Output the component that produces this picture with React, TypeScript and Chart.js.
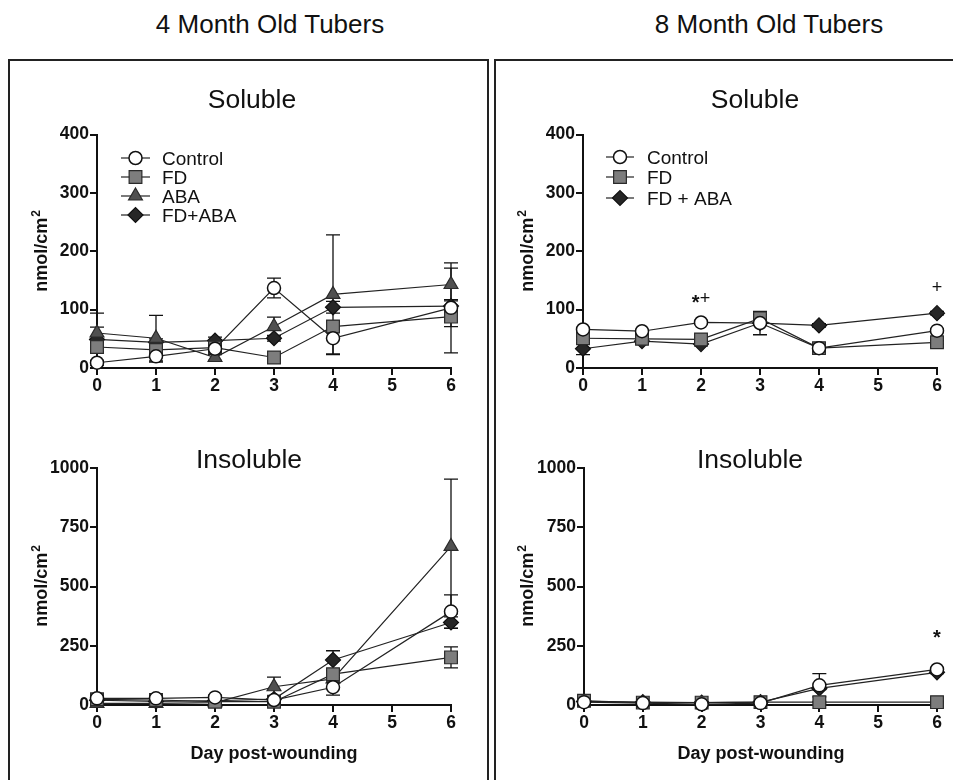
import React, { useEffect, useRef } from 'react';
import { Chart, registerables } from 'chart.js';

Chart.register(...registerables);

// ---------------- data ----------------
const days = [0, 1, 2, 3, 4, 6];
const dayTicks = [0, 1, 2, 3, 4, 5, 6];
const solubleTicks = [0, 100, 200, 300, 400];
const insolubleTicks = [0, 250, 500, 750, 1000];

// 4 month old, soluble
const ctrl4Sol = [9, 20, 33, 137, 51, 103];
const ctrl4SolErr = [4, 10, 5, 17, 28, 77];
const fd4Sol = [36, 31, 35, 18, 71, 88];
const fd4SolErr = [8, 6, 4, 3, 10, 17];
const aba4Sol = [60, 51, 18, 71, 126, 143];
const aba4SolErr = [34, 39, 5, 16, 102, 28];
const fdAba4Sol = [49, 44, 47, 51, 104, 106];
const fdAba4SolErr = [21, 6, 6, 5, 10, 11];

// 8 month old, soluble
const ctrl8Sol = [66, 63, 78, 77, 34, 64];
const ctrl8SolErr = [3, 3, 3, 20, 3, 3];
const fd8Sol = [51, 50, 49, 85, 34, 44];
const fd8SolErr = [3, 3, 3, 7, 3, 3];
const fdAba8Sol = [33, 46, 41, 77, 73, 94];
const fdAba8SolErr = [10, 4, 3, 4, 3, 3];

// 4 month old, insoluble
const ctrl4Ins = [28, 28, 32, 21, 75, 394];
const ctrl4InsErr = [8, 5, 8, 5, 33, 71];
const fd4Ins = [24, 21, 14, 14, 130, 201];
const fd4InsErr = [5, 4, 3, 3, 15, 44];
const aba4Ins = [7, 7, 10, 77, 110, 669];
const aba4InsErr = [4, 3, 3, 41, 15, 284];
const fdAba4Ins = [20, 15, 18, 25, 190, 348];
const fdAba4InsErr = [5, 4, 4, 5, 39, 24];

// 8 month old, insoluble
const ctrl8Ins = [12, 8, 3, 8, 83, 150];
const ctrl8InsErr = [3, 3, 3, 3, 49, 8];
const fd8Ins = [18, 10, 10, 12, 12, 12];
const fd8InsErr = [3, 3, 3, 3, 3, 3];
const fdAba8Ins = [15, 12, 10, 12, 70, 138];
const fdAba8InsErr = [3, 3, 3, 3, 5, 5];

// significance marks
const notes8Sol = [
  { day: 2, value: 121, text: '*+' },
  { day: 6, value: 139, text: '+' },
];
const notes8Ins = [{ day: 6, value: 304, text: '*' }];

// ---------------- styling ----------------
const FONT = '"Liberation Sans", Arial, Helvetica, sans-serif';
const INK = '#111';
const LINE = '#222';
const Y_AXIS_W = 62;
const X_AXIS_H = 30;

type Key = 'control' | 'fd' | 'aba' | 'fdaba';
const STYLES: Record<Key, any> = {
  control: { pointStyle: 'circle', radius: 6.5, fill: '#ffffff', stroke: '#111', bw: 1.5, order: 1 },
  fd: { pointStyle: 'rect', radius: 9, fill: '#7d7d7d', stroke: '#2a2a2a', bw: 1.2, order: 2 },
  aba: { pointStyle: 'triangle', radius: 8, fill: '#505050', stroke: '#2a2a2a', bw: 1.2, order: 3 },
  fdaba: { pointStyle: 'rectRot', radius: 7.5, fill: '#262626', stroke: '#111', bw: 1.2, order: 4 },
};

interface Series { key: Key; label: string; values: number[]; errors: number[] }
interface PanelDef {
  canvas: { left: number; top: number; width: number; height: number };
  area: { left: number; top: number; right: number; bottom: number };
  yTicks: number[];
  series: Series[];
  title: string;
  titlePos: [number, number];
  yTitlePos: [number, number];
  xTitlePos?: [number, number];
  legend?: { x1: number; x2: number; tx: number; rows: number[] };
  notes?: { day: number; value: number; text: string }[];
}

const panels: PanelDef[] = [
  {
    canvas: { left: 12, top: 64, width: 474, height: 336 },
    area: { left: 97, top: 134.5, right: 451, bottom: 368 },
    yTicks: solubleTicks,
    series: [
      { key: 'control', label: 'Control', values: ctrl4Sol, errors: ctrl4SolErr },
      { key: 'fd', label: 'FD', values: fd4Sol, errors: fd4SolErr },
      { key: 'aba', label: 'ABA', values: aba4Sol, errors: aba4SolErr },
      { key: 'fdaba', label: 'FD+ABA', values: fdAba4Sol, errors: fdAba4SolErr },
    ],
    title: 'Soluble',
    titlePos: [252, 108],
    yTitlePos: [47, 251],
    legend: { x1: 121, x2: 150, tx: 162, rows: [158, 177, 196, 215] },
  },
  {
    canvas: { left: 498, top: 64, width: 452, height: 336 },
    area: { left: 583, top: 134.5, right: 937, bottom: 368 },
    yTicks: solubleTicks,
    series: [
      { key: 'control', label: 'Control', values: ctrl8Sol, errors: ctrl8SolErr },
      { key: 'fd', label: 'FD', values: fd8Sol, errors: fd8SolErr },
      { key: 'fdaba', label: 'FD + ABA', values: fdAba8Sol, errors: fdAba8SolErr },
    ],
    title: 'Soluble',
    titlePos: [755, 108],
    yTitlePos: [533, 251],
    legend: { x1: 606, x2: 634, tx: 647, rows: [157, 177, 198] },
    notes: notes8Sol,
  },
  {
    canvas: { left: 12, top: 420, width: 474, height: 355 },
    area: { left: 97, top: 468, right: 451, bottom: 705 },
    yTicks: insolubleTicks,
    series: [
      { key: 'control', label: 'Control', values: ctrl4Ins, errors: ctrl4InsErr },
      { key: 'fd', label: 'FD', values: fd4Ins, errors: fd4InsErr },
      { key: 'aba', label: 'ABA', values: aba4Ins, errors: aba4InsErr },
      { key: 'fdaba', label: 'FD+ABA', values: fdAba4Ins, errors: fdAba4InsErr },
    ],
    title: 'Insoluble',
    titlePos: [249, 468],
    yTitlePos: [47, 586],
    xTitlePos: [274, 759],
  },
  {
    canvas: { left: 498, top: 420, width: 452, height: 355 },
    area: { left: 584, top: 468, right: 937, bottom: 705 },
    yTicks: insolubleTicks,
    series: [
      { key: 'control', label: 'Control', values: ctrl8Ins, errors: ctrl8InsErr },
      { key: 'fd', label: 'FD', values: fd8Ins, errors: fd8InsErr },
      { key: 'fdaba', label: 'FD + ABA', values: fdAba8Ins, errors: fdAba8InsErr },
    ],
    title: 'Insoluble',
    titlePos: [750, 468],
    yTitlePos: [533, 586],
    xTitlePos: [761, 759],
    notes: notes8Ins,
  },
];

function drawMarker(ctx: CanvasRenderingContext2D, st: any, x: number, y: number) {
  const r = st.radius;
  ctx.beginPath();
  if (st.pointStyle === 'circle') {
    ctx.arc(x, y, r, 0, Math.PI * 2);
  } else if (st.pointStyle === 'rect') {
    const s = r * Math.SQRT1_2;
    ctx.rect(x - s, y - s, 2 * s, 2 * s);
  } else if (st.pointStyle === 'triangle') {
    ctx.moveTo(x, y - r);
    ctx.lineTo(x + 0.866 * r, y + 0.5 * r);
    ctx.lineTo(x - 0.866 * r, y + 0.5 * r);
    ctx.closePath();
  } else {
    ctx.moveTo(x - r, y);
    ctx.lineTo(x, y - r);
    ctx.lineTo(x + r, y);
    ctx.lineTo(x, y + r);
    ctx.closePath();
  }
  ctx.fillStyle = st.fill;
  ctx.fill();
  ctx.lineWidth = st.bw;
  ctx.strokeStyle = st.stroke;
  ctx.stroke();
}

function makeDecor(def: PanelDef) {
  const cl = def.canvas.left;
  const ct = def.canvas.top;
  return {
    id: 'decor',
    beforeDatasetsDraw(chart: any) {
      const ctx: CanvasRenderingContext2D = chart.ctx;
      const xs = chart.scales.x;
      const ys = chart.scales.y;
      ctx.save();
      ctx.strokeStyle = INK;
      ctx.lineWidth = 1.3;
      chart.data.datasets.forEach((ds: any) => {
        const errs: number[] = ds.errors || [];
        ds.data.forEach((p: any, i: number) => {
          const e = errs[i];
          if (!e) return;
          const px = xs.getPixelForValue(p.x);
          const lo = Math.max(0, p.y - e);
          const top = ys.getPixelForValue(p.y + e);
          const bot = ys.getPixelForValue(lo);
          ctx.beginPath();
          ctx.moveTo(px, top);
          ctx.lineTo(px, bot);
          ctx.moveTo(px - 7, top);
          ctx.lineTo(px + 7, top);
          if (lo > 0) {
            ctx.moveTo(px - 7, bot);
            ctx.lineTo(px + 7, bot);
          }
          ctx.stroke();
        });
      });
      ctx.restore();
    },
    afterDraw(chart: any) {
      const ctx: CanvasRenderingContext2D = chart.ctx;
      const xs = chart.scales.x;
      const ys = chart.scales.y;
      ctx.save();
      ctx.fillStyle = INK;
      ctx.textBaseline = 'alphabetic';

      // panel title
      ctx.font = `26.5px ${FONT}`;
      ctx.textAlign = 'center';
      ctx.fillText(def.title, def.titlePos[0] - cl, def.titlePos[1] - ct);

      // y axis title (rotated, with superscript)
      ctx.save();
      ctx.translate(def.yTitlePos[0] - cl, def.yTitlePos[1] - ct);
      ctx.rotate(-Math.PI / 2);
      const main = 'nmol/cm';
      ctx.font = `bold 18px ${FONT}`;
      const w1 = ctx.measureText(main).width;
      ctx.font = `bold 12px ${FONT}`;
      const w2 = ctx.measureText('2').width;
      const total = w1 + w2 + 1;
      ctx.textAlign = 'left';
      ctx.font = `bold 18px ${FONT}`;
      ctx.fillText(main, -total / 2, 0);
      ctx.font = `bold 12px ${FONT}`;
      ctx.fillText('2', -total / 2 + w1 + 1, -7);
      ctx.restore();

      // x axis title
      if (def.xTitlePos) {
        ctx.font = `bold 18px ${FONT}`;
        ctx.textAlign = 'center';
        ctx.fillText('Day post-wounding', def.xTitlePos[0] - cl, def.xTitlePos[1] - ct);
      }

      // legend
      if (def.legend) {
        const lg = def.legend;
        def.series.forEach((s, i) => {
          const y = lg.rows[i] - ct;
          const st = STYLES[s.key];
          ctx.beginPath();
          ctx.moveTo(lg.x1 - cl, y);
          ctx.lineTo(lg.x2 - cl, y);
          ctx.strokeStyle = LINE;
          ctx.lineWidth = 1.2;
          ctx.stroke();
          drawMarker(ctx, st, (lg.x1 + lg.x2) / 2 - cl, y);
          ctx.fillStyle = INK;
          ctx.font = `19px ${FONT}`;
          ctx.textAlign = 'left';
          ctx.fillText(s.label, lg.tx - cl, y + 0.36 * 19);
        });
      }

      // significance marks
      (def.notes || []).forEach((n) => {
        const px = xs.getPixelForValue(n.day);
        const py = ys.getPixelForValue(n.value);
        const parts = n.text.split('').map((c) => ({
          c,
          font: c === '*' ? `bold 20px ${FONT}` : `18px ${FONT}`,
          dy: c === '*' ? 0.57 * 20 : 0.36 * 18,
          w: 0,
        }));
        let tw = 0;
        parts.forEach((p) => {
          ctx.font = p.font;
          p.w = ctx.measureText(p.c).width;
          tw += p.w;
        });
        let x = px - tw / 2;
        ctx.textAlign = 'left';
        ctx.fillStyle = INK;
        parts.forEach((p) => {
          ctx.font = p.font;
          ctx.fillText(p.c, x, py + p.dy);
          x += p.w;
        });
      });
      ctx.restore();
    },
  };
}

function buildConfig(def: PanelDef): any {
  const c = def.canvas;
  const a = def.area;
  const datasets = def.series.map((s) => {
    const st = STYLES[s.key];
    return {
      label: s.label,
      data: days.map((d, i) => ({ x: d, y: s.values[i] })),
      errors: s.errors,
      borderColor: LINE,
      borderWidth: 1.2,
      pointStyle: st.pointStyle,
      pointRadius: st.radius,
      pointHoverRadius: st.radius,
      pointBackgroundColor: st.fill,
      pointBorderColor: st.stroke,
      pointBorderWidth: st.bw,
      fill: false,
      tension: 0,
      order: st.order,
      clip: false,
    };
  });
  const tickFont = { family: FONT, size: 17.5, weight: 'bold' as const };
  const yMax = def.yTicks[def.yTicks.length - 1];
  return {
    type: 'line',
    data: { datasets },
    options: {
      responsive: false,
      maintainAspectRatio: false,
      animation: false,
      events: [],
      layout: {
        padding: {
          left: a.left - c.left - Y_AXIS_W,
          right: c.left + c.width - a.right,
          top: a.top - c.top,
          bottom: c.top + c.height - a.bottom - X_AXIS_H,
        },
      },
      plugins: {
        legend: { display: false },
        tooltip: { enabled: false },
        title: { display: false },
      },
      scales: {
        x: {
          type: 'linear',
          min: dayTicks[0],
          max: dayTicks[dayTicks.length - 1],
          afterBuildTicks: (axis: any) => {
            axis.ticks = dayTicks.map((v) => ({ value: v }));
          },
          afterFit: (axis: any) => {
            axis.height = X_AXIS_H;
          },
          ticks: {
            color: INK,
            font: tickFont,
            padding: 1,
            maxRotation: 0,
            autoSkip: false,
            callback: (v: any) => String(v),
          },
          grid: { display: true, drawOnChartArea: false, drawTicks: true, tickLength: 7, color: INK, lineWidth: 2 },
          border: { display: true, color: INK, width: 2 },
        },
        y: {
          type: 'linear',
          min: 0,
          max: yMax,
          afterBuildTicks: (axis: any) => {
            axis.ticks = def.yTicks.map((v) => ({ value: v }));
          },
          afterFit: (axis: any) => {
            axis.width = Y_AXIS_W;
          },
          ticks: { color: INK, font: tickFont, padding: 1, autoSkip: false, callback: (v: any) => String(v) },
          grid: { display: true, drawOnChartArea: false, drawTicks: true, tickLength: 7, color: INK, lineWidth: 2 },
          border: { display: true, color: INK, width: 2 },
        },
      },
    },
    plugins: [makeDecor(def)],
  };
}

function Panel({ def }: { def: PanelDef }) {
  const ref = useRef<HTMLCanvasElement>(null);
  useEffect(() => {
    if (!ref.current) return;
    const chart = new Chart(ref.current, buildConfig(def));
    return () => chart.destroy();
  }, [def]);
  const c = def.canvas;
  return (
    <canvas
      ref={ref}
      width={c.width}
      height={c.height}
      style={{ position: 'absolute', left: c.left, top: c.top, width: c.width, height: c.height }}
    />
  );
}

export default function App() {
  const heading: React.CSSProperties = {
    position: 'absolute',
    top: 11,
    width: 400,
    textAlign: 'center',
    font: `26px ${FONT}`,
    lineHeight: '26px',
    color: INK,
    whiteSpace: 'nowrap',
  };
  const box: React.CSSProperties = {
    position: 'absolute',
    top: 59,
    height: 760,
    border: '2px solid #222',
    boxSizing: 'border-box',
  };
  return (
    <div
      style={{
        position: 'absolute',
        left: 0,
        top: 0,
        width: 953,
        height: 780,
        overflow: 'hidden',
        background: '#fff',
      }}
    >
      <div style={{ ...heading, left: 70 }}>4 Month Old Tubers</div>
      <div style={{ ...heading, left: 569 }}>8 Month Old Tubers</div>
      <div style={{ ...box, left: 8, width: 481 }} />
      <div style={{ ...box, left: 494, width: 480 }} />
      {panels.map((p, i) => (
        <Panel key={i} def={p} />
      ))}
    </div>
  );
}
